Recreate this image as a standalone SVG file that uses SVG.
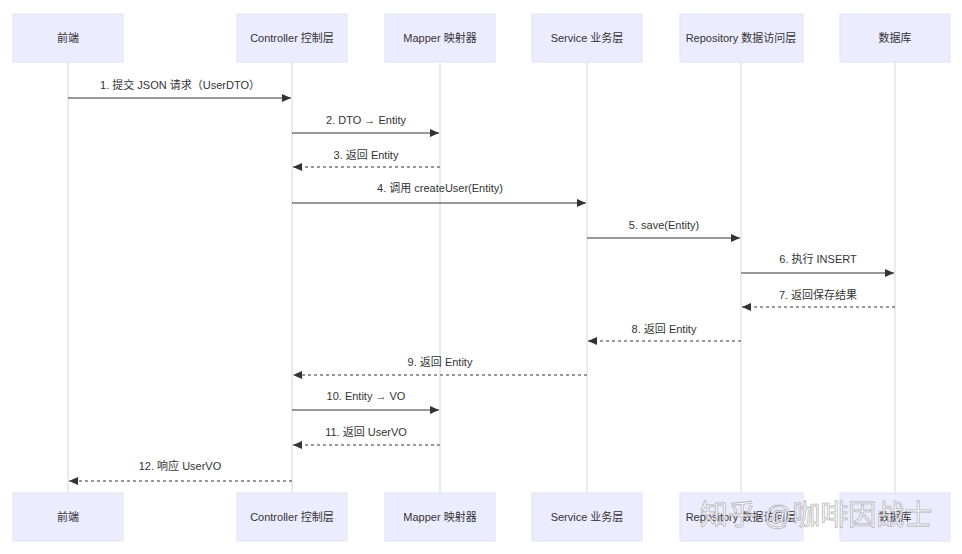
<svg xmlns="http://www.w3.org/2000/svg" width="962" height="554" viewBox="0 0 962 554">
<style>
.box{fill:#ECECFF;stroke:#E2E2F2;stroke-width:1}
.lt{font-family:"Liberation Sans","Noto Sans CJK SC",sans-serif;font-size:11px;fill:#333;text-anchor:middle}
.life{stroke:#D6D6D6;stroke-width:1}
.m{stroke:#333;stroke-width:1;fill:none}
.d{stroke-dasharray:3,3}
.wm{font-family:"Liberation Sans","Noto Sans CJK SC",sans-serif;font-size:28px;fill:#fff;fill-opacity:0.75;stroke:#999;stroke-width:0.8;stroke-opacity:0.7}
</style>
<defs><marker id="a" markerWidth="10" markerHeight="8" refX="9" refY="4" orient="auto" markerUnits="userSpaceOnUse"><path d="M0,0 L9,4 L0,8 z" fill="#333"/></marker></defs>
<rect width="962" height="554" fill="#fff"/>
<g id="lifelines">
<line class="life" x1="68" y1="62" x2="68" y2="493"/>
<line class="life" x1="292" y1="62" x2="292" y2="493"/>
<line class="life" x1="440" y1="62" x2="440" y2="493"/>
<line class="life" x1="587" y1="62" x2="587" y2="493"/>
<line class="life" x1="741" y1="62" x2="741" y2="493"/>
<line class="life" x1="895" y1="62" x2="895" y2="493"/>
</g>
<g id="p-frontend"><rect class="box" x="13" y="14" width="110" height="48"/><text class="lt" x="68" y="42">前端</text><rect class="box" x="13" y="493" width="110" height="48"/><text class="lt" x="68" y="521">前端</text></g>
<g id="p-controller"><rect class="box" x="237" y="14" width="110" height="48"/><text class="lt" x="292" y="42">Controller 控制层</text><rect class="box" x="237" y="493" width="110" height="48"/><text class="lt" x="292" y="521">Controller 控制层</text></g>
<g id="p-mapper"><rect class="box" x="385" y="14" width="110" height="48"/><text class="lt" x="440" y="42">Mapper 映射器</text><rect class="box" x="385" y="493" width="110" height="48"/><text class="lt" x="440" y="521">Mapper 映射器</text></g>
<g id="p-service"><rect class="box" x="532" y="14" width="110" height="48"/><text class="lt" x="587" y="42">Service 业务层</text><rect class="box" x="532" y="493" width="110" height="48"/><text class="lt" x="587" y="521">Service 业务层</text></g>
<g id="p-repo"><rect class="box" x="680" y="14" width="123" height="48"/><text class="lt" x="741" y="42">Repository 数据访问层</text><rect class="box" x="680" y="493" width="123" height="48"/><text class="lt" x="741" y="521">Repository 数据访问层</text></g>
<g id="p-db"><rect class="box" x="840" y="14" width="110" height="48"/><text class="lt" x="895" y="42">数据库</text><rect class="box" x="840" y="493" width="110" height="48"/><text class="lt" x="895" y="521">数据库</text></g>
<g id="connectors">
<line class="m" x1="68" y1="98" x2="291" y2="98" marker-end="url(#a)"/><text class="lt" x="180" y="89">1. 提交 JSON 请求（UserDTO）</text>
<line class="m" x1="292" y1="133" x2="439" y2="133" marker-end="url(#a)"/><text class="lt" x="366" y="124">2. DTO → Entity</text>
<line class="m d" x1="440" y1="167" x2="293" y2="167" marker-end="url(#a)"/><text class="lt" x="366" y="159">3. 返回 Entity</text>
<line class="m" x1="292" y1="203" x2="586" y2="203" marker-end="url(#a)"/><text class="lt" x="440" y="192">4. 调用 createUser(Entity)</text>
<line class="m" x1="587" y1="238" x2="740" y2="238" marker-end="url(#a)"/><text class="lt" x="664" y="229">5. save(Entity)</text>
<line class="m" x1="741" y1="273" x2="894" y2="273" marker-end="url(#a)"/><text class="lt" x="818" y="263">6. 执行 INSERT</text>
<line class="m d" x1="895" y1="307" x2="742" y2="307" marker-end="url(#a)"/><text class="lt" x="818" y="299">7. 返回保存结果</text>
<line class="m d" x1="741" y1="341" x2="588" y2="341" marker-end="url(#a)"/><text class="lt" x="664" y="333">8. 返回 Entity</text>
<line class="m d" x1="587" y1="375" x2="293" y2="375" marker-end="url(#a)"/><text class="lt" x="440" y="366">9. 返回 Entity</text>
<line class="m" x1="292" y1="410" x2="439" y2="410" marker-end="url(#a)"/><text class="lt" x="366" y="400">10. Entity → VO</text>
<line class="m d" x1="440" y1="445" x2="293" y2="445" marker-end="url(#a)"/><text class="lt" x="366" y="436">11. 返回 UserVO</text>
<line class="m d" x1="292" y1="481" x2="69" y2="481" marker-end="url(#a)"/><text class="lt" x="180" y="470">12. 响应 UserVO</text>
</g>
<text class="wm" x="700" y="525">知乎 @咖啡因战士</text>
</svg>
